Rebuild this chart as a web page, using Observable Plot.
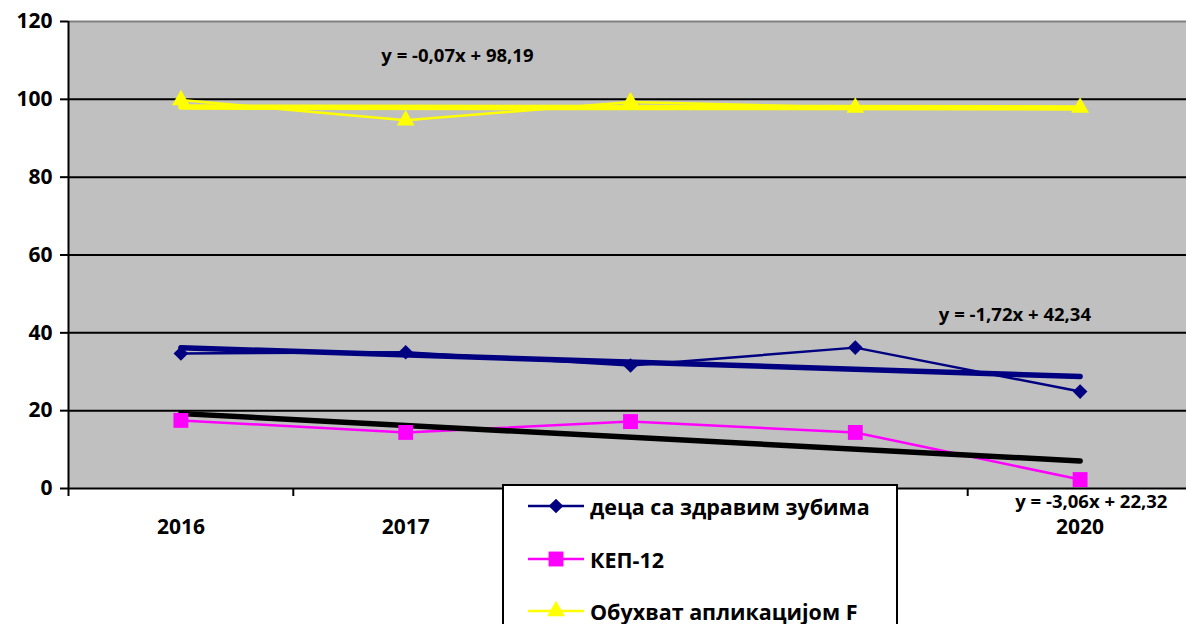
<!DOCTYPE html>
<html>
<head>
<meta charset="utf-8">
<script src="https://cdn.jsdelivr.net/npm/d3@7"></script>
<script src="https://cdn.jsdelivr.net/npm/@observablehq/plot@0.6"></script>
<style>
  html, body { margin: 0; padding: 0; background: #fff; }
  #wrap { position: relative; width: 1186px; height: 624px; overflow: hidden; font-family: "Open Sans", "Noto Sans", sans-serif; }
  #legend { position: absolute; left: 502px; top: 484px; width: 396px; height: 170px; background: #fff; border: 2px solid #000; box-sizing: border-box; }
  .row { position: absolute; left: 24px; height: 30px; display: flex; align-items: center; }
  .row svg { display: block; }
  .row span { margin-left: 6px; font-weight: 700; font-size: 21.5px; color: #000; white-space: nowrap; }
</style>
</head>
<body>
<div id="wrap"><div id="chart"></div><div id="legend"></div></div>
<script>
// ---- data ----
const years = [2016, 2017, 2018, 2019, 2020];
const yearLabels = [2016, 2017, 2020]; // 2018 and 2019 are hidden behind the legend box
const seriesNames = ["деца са здравим зубима", "КЕП-12", "Обухват апликацијом F"];
const deca = [34.7, 35.0, 31.6, 36.2, 24.9];
const kep = [17.5, 14.4, 17.2, 14.4, 2.3];
const obuhvat = [99.8, 94.6, 99.3, 97.9, 97.9];
const seriesColors = ["#000080", "#ff00ff", "#ffff00"];
const trendColors = ["#000080", "#000000", "#ffff00"];
const seriesSymbols = ["diamond2", "square", "triangle"];
const trendLabels = ["y = -1,72x + 42,34", "y = -3,06x + 22,32", "y = -0,07x + 98,19"];
const trendLabelX = [2019.71, 2020.05, 2017.23];
const trendLabelY = [44.6, -3.6, 111.2];
const yTicks = [0, 20, 40, 60, 80, 100, 120];
const gridTicks = [20, 40, 60, 80, 100];
const boundaries = [2015.5, 2016.5, 2017.5, 2018.5, 2019.5];

const values = [deca, kep, obuhvat];
const rowsBySeries = values.map((vals, s) => years.map((yr, i) => ({year: yr, value: vals[i], series: seriesNames[s]})));
const labelRows = trendLabels.map((t, i) => ({text: t, x: trendLabelX[i], y: trendLabelY[i]}));

const marks = [
  Plot.frame({fill: "#c0c0c0", stroke: null}),
  Plot.gridY(gridTicks, {stroke: "#000", strokeOpacity: 1, strokeWidth: 2}),
  Plot.ruleY([120], {stroke: "#808080", strokeWidth: 2}),
];
rowsBySeries.forEach((rows, s) => {
  marks.push(Plot.line(rows, {x: "year", y: "value", stroke: seriesColors[s], strokeWidth: 2.5}));
});
rowsBySeries.forEach((rows, s) => {
  marks.push(Plot.linearRegressionY(rows, {x: "year", y: "value", stroke: trendColors[s], strokeWidth: 5.5, ci: 0}));
});
rowsBySeries.forEach((rows, s) => {
  marks.push(Plot.dot(rows, {x: "year", y: "value", symbol: seriesSymbols[s], fill: seriesColors[s], stroke: "none", r: s === 1 ? 8.4 : 6.6}));
});
marks.push(
  Plot.ruleY([0], {stroke: "#000", strokeWidth: 2}),
  Plot.ruleX([2015.5], {stroke: "#000", strokeWidth: 2}),
  Plot.axisY(yTicks, {anchor: "left", tickSize: 8, tickPadding: 8, stroke: "#000", strokeWidth: 2, fontSize: 21, fontWeight: 700, fill: "#000", label: null}),
  Plot.axisX(boundaries, {anchor: "bottom", tickSize: 8, stroke: "#000", strokeWidth: 2, tickFormat: () => "", label: null}),
  Plot.axisX(yearLabels, {anchor: "bottom", tickSize: 0, tickPadding: 31, tickFormat: d => String(d), fontSize: 21, fontWeight: 700, fill: "#000", label: null}),
  Plot.text(labelRows, {x: "x", y: "y", text: "text", fontSize: 18.5, fontWeight: 700, fill: "#000"})
);

const chart = Plot.plot({
  width: 1186,
  height: 624,
  marginLeft: 68,
  marginRight: 0,
  marginTop: 21,
  marginBottom: 136,
  style: {fontFamily: "'Open Sans', 'Noto Sans', sans-serif", background: "#fff", overflow: "visible"},
  x: {domain: [2015.5, 2020.5], range: [68, 1192]},
  y: {domain: [0, 120]},
  marks
});
document.getElementById("chart").appendChild(chart);

// ---- legend ----
const legend = document.getElementById("legend");
const rowTops = [5, 58, 110];
seriesNames.forEach((name, s) => {
  const row = document.createElement("div");
  row.className = "row";
  row.style.top = rowTops[s] + "px";
  const svg = d3.create("svg").attr("width", 56).attr("height", 30);
  svg.append("line").attr("x1", 0).attr("x2", 56).attr("y1", 15).attr("y2", 15).attr("stroke", seriesColors[s]).attr("stroke-width", 2.5);
  const symMap = {diamond2: d3.symbolDiamond2, square: d3.symbolSquare, triangle: d3.symbolTriangle};
  const r = s === 1 ? 8.4 : 6.6;
  svg.append("path").attr("transform", "translate(28,15)").attr("d", d3.symbol(symMap[seriesSymbols[s]], Math.PI * r * r)()).attr("fill", seriesColors[s]);
  row.appendChild(svg.node());
  const span = document.createElement("span");
  span.textContent = name;
  row.appendChild(span);
  legend.appendChild(row);
});
</script>
</body>
</html>
